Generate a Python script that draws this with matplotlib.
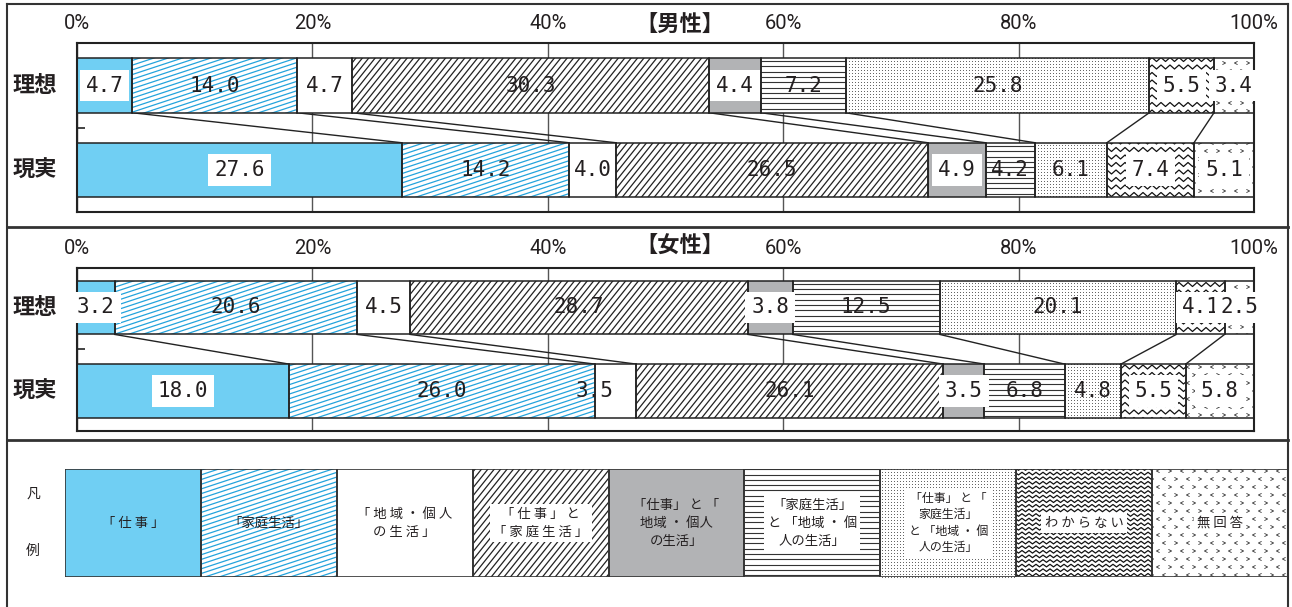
import numpy as np
import matplotlib
matplotlib.use("Agg")
import matplotlib.pyplot as plt
import matplotlib.transforms as mtransforms
from matplotlib.collections import LineCollection
from matplotlib.patches import Rectangle
from matplotlib.lines import Line2D

plt.rcParams['font.family'] = ['Noto Sans CJK JP', 'DejaVu Sans']

# ---------------------------------------------------------------- data
categories = ['「仕事」', '「家庭生活」', '「地域・個人の生活」', '「仕事」と「家庭生活」',
              '「仕事」と「地域・個人の生活」', '「家庭生活」と「地域・個人の生活」',
              '「仕事」と「家庭生活」と「地域・個人の生活」', 'わからない', '無回答']
legend_text = ['「 仕 事 」', '「家庭生活」', '「 地 域 ・ 個 人\nの 生 活 」',
               '「 仕 事 」 と\n「 家 庭 生 活 」', '「仕事」 と 「\n地域 ・ 個人\nの生活」',
               '「家庭生活」\nと 「地域 ・ 個\n人の生活」', '「仕事」 と 「\n家庭生活」\nと 「地域 ・ 個\n人の生活」',
               'わ か ら な い', '無 回 答']
rows = ['理想', '現実']
men_ideal = [4.7, 14.0, 4.7, 30.3, 4.4, 7.2, 25.8, 5.5, 3.4]
men_real = [27.6, 14.2, 4.0, 26.5, 4.9, 4.2, 6.1, 7.4, 5.1]
women_ideal = [3.2, 20.6, 4.5, 28.7, 3.8, 12.5, 20.1, 4.1, 2.5]
women_real = [18.0, 26.0, 3.5, 26.1, 3.5, 6.8, 4.8, 5.5, 5.8]
panel_titles = ['【男性】', '【女性】']
xticks = [0, 20, 40, 60, 80, 100]
xtick_labels = ['0%', '20%', '40%', '60%', '80%', '100%']

# ---------------------------------------------------------------- styles
BLUE = '#70CFF3'
HATCH_BLUE = '#23A3DC'
GRAY = '#B2B3B5'
INK = '#231F20'
faces = [BLUE, 'white', 'white', 'white', GRAY, 'white', 'white', 'white', 'white']
patterns = [None, 'blue', None, 'diag', None, 'horiz', 'dots', 'wave', 'chev']
boxed = [True, False, False, False, True, False, False, True, True]
NUM_FONT = ['DejaVu Sans Mono']
TICK_FONT = ['Roboto', 'DejaVu Sans']

W, H, DPI = 1292, 607, 100
fig = plt.figure(figsize=(W / DPI, H / DPI), dpi=DPI)


def frac(x0, y0, x1, y1):
    return [x0 / W, 1 - y1 / H, (x1 - x0) / W, (y1 - y0) / H]


# ---------------------------------------------------------------- pattern helpers
def px_box(patch):
    b = patch.get_extents()
    return b.x0, b.y0, b.x1, b.y1


def add_segments(ax, segs_px, patch, color, lw, z=2.2):
    inv = ax.transData.inverted()
    segs = [inv.transform(np.asarray(s, float)) for s in segs_px]
    lc = LineCollection(segs, colors=color, linewidths=lw, zorder=z)
    ax.add_collection(lc, autolim=False)
    lc.set_clip_path(patch)


def draw_pattern(ax, patch, kind, dense=False):
    x0, y0, x1, y1 = px_box(patch)
    segs = []
    if kind == 'blue' or kind == 'diag':
        slope, step = (0.33, 4.7) if kind == 'blue' else (1.25, 8.0)
        cmin, cmax = y0 - slope * x1, y1 - slope * x0
        for k in range(int(np.floor(cmin / step)) - 1, int(np.ceil(cmax / step)) + 2):
            c = k * step
            segs.append([(x0 - 2, slope * (x0 - 2) + c), (x1 + 2, slope * (x1 + 2) + c)])
        color = HATCH_BLUE if kind == 'blue' else '#222222'
        add_segments(ax, segs, patch, color, 0.9)
    elif kind == 'horiz':
        step = 5.3
        for k in range(int(np.floor(y0 / step)), int(np.ceil(y1 / step)) + 1):
            segs.append([(x0 - 2, k * step), (x1 + 2, k * step)])
        add_segments(ax, segs, patch, '#333333', 0.8)
    elif kind == 'wave':
        step, half, amp = (4.6, 3.5, 1.3) if dense else (7.5, 4.5, 2.0)
        xs = np.arange(np.floor(x0 / half) * half - half, x1 + 2 * half, half)
        sgn = np.where((np.round(xs / half).astype(int) % 2) == 0, 1.0, -1.0)
        for k in range(int(np.floor(y0 / step)), int(np.ceil(y1 / step)) + 1):
            segs.append(np.column_stack([xs, k * step + amp * sgn]))
        add_segments(ax, segs, patch, '#111111', 0.9)
    elif kind == 'chev':
        sx, sy, s = 12.0, 8.0, 1.6
        for j in range(int(np.floor(y0 / sy)), int(np.ceil(y1 / sy)) + 1):
            off = (sx / 2) if j % 2 else 0.0
            for i in range(int(np.floor(x0 / sx)) - 1, int(np.ceil(x1 / sx)) + 1):
                cx, cy = i * sx + off, j * sy
                d = s if (i + j) % 2 else -s
                segs.append([(cx + d, cy + s), (cx - d, cy), (cx + d, cy - s)])
        add_segments(ax, segs, patch, '#333333', 0.6)
    elif kind == 'dots':
        step = 3.0
        gx = np.arange(np.floor(x0 / step) * step, x1 + step, step)
        gy = np.arange(np.floor(y0 / step) * step, y1 + step, step)
        XX, YY = np.meshgrid(gx, gy)
        pts = ax.transData.inverted().transform(np.column_stack([XX.ravel(), YY.ravel()]))
        ln, = ax.plot(pts[:, 0], pts[:, 1], ls='none', marker='s', ms=0.7, mew=0,
                      color='#666666', zorder=2.2)
        ln.set_clip_path(patch)


# ---------------------------------------------------------------- bar panels
BAR_H = 0.645
panels = [
    dict(data=[men_ideal, men_real], box=(77, 43, 1254, 212), ylim=(1.497, -0.503),
         title_y=25),
    dict(data=[women_ideal, women_real], box=(77, 268, 1254, 431), ylim=(1.479, -0.473),
         title_y=246),
]
label_shift = {(1, 1, 2): -1.8}

for p_i, P in enumerate(panels):
    ax = fig.add_axes(frac(*P['box']))
    ax.set_xlim(0, 100)
    ax.set_ylim(*P['ylim'])
    ax.set_axisbelow(True)
    ax.set_xticks(xticks)
    ax.set_xticklabels(xtick_labels)
    ax.xaxis.set_ticks_position('top')
    ax.tick_params(axis='x', length=0, pad=7, labelsize=14.5, labelcolor=INK)
    for lbl in ax.get_xticklabels():
        lbl.set_fontfamily(TICK_FONT)
    ax.set_yticks([0.5])
    ax.set_yticklabels([])
    ax.tick_params(axis='y', direction='in', length=6, width=1.2, color='#222222')
    ax.grid(axis='x', color='#555555', lw=1.0)
    for sp in ax.spines.values():
        sp.set_linewidth(1.5)
        sp.set_color('#222222')

    cums = []
    for r, vals in enumerate(P['data']):
        vals = np.asarray(vals)
        cum = np.cumsum(vals)
        lefts = cum - vals
        cums.append(cum)
        for i, (v, l) in enumerate(zip(vals, lefts)):
            face = ax.barh(r, v, left=l, height=BAR_H, color=faces[i], edgecolor='none',
                           zorder=2)[0]
            if patterns[i]:
                draw_pattern(ax, face, patterns[i])
            ax.barh(r, v, left=l, height=BAR_H, fill=False, edgecolor='#222222', lw=1.1,
                    zorder=3)
            bbox = dict(facecolor='white', edgecolor='none', boxstyle='square,pad=0.28') \
                if boxed[i] else None
            xc = l + v / 2 + label_shift.get((p_i, r, i), 0)
            ax.text(xc, r, f'{v:.1f}', ha='center', va='center', fontsize=15,
                    family=NUM_FONT, color=INK, bbox=bbox, zorder=6, clip_on=False)

    # connector lines between the two bars
    for a, b in zip(cums[0][:-1], cums[1][:-1]):
        ax.plot([a, b], [BAR_H / 2, 1 - BAR_H / 2], color='#222222', lw=1.0, zorder=1.5)

    trans = mtransforms.blended_transform_factory(fig.transFigure, ax.transData)
    for r, name in enumerate(rows):
        ax.text(35 / W, r, name, transform=trans, ha='center', va='center', fontsize=16,
                fontweight='bold', color=INK)
    fig.text(680 / W, 1 - P['title_y'] / H, panel_titles[p_i], ha='center', va='center',
             fontsize=16, fontweight='bold', color=INK)

# ---------------------------------------------------------------- legend
lax = fig.add_axes(frac(65, 469, 1288, 577))
lax.set_xlim(0, len(categories))
lax.set_ylim(0, 1)
lax.axis('off')
for i, txt in enumerate(legend_text):
    face = Rectangle((i, 0), 1, 1, facecolor=faces[i], edgecolor='none', zorder=2)
    lax.add_patch(face)
    if patterns[i]:
        draw_pattern(lax, face, patterns[i], dense=True)
    lax.add_patch(Rectangle((i, 0), 1, 1, fill=False, edgecolor='#333333', lw=1.2, zorder=3))
    bbox = None if i in (0, 1, 4) else dict(facecolor='white', edgecolor='none',
                                              boxstyle='square,pad=0.25')
    fs = 8.6 if i == 6 else 9.6
    lax.text(i + 0.5, 0.5, txt, ha='center', va='center', fontsize=fs, color=INK,
             linespacing=1.35, bbox=bbox, zorder=6)

fig.text(33 / W, 1 - 494 / H, '凡', ha='center', va='center', fontsize=10, color=INK)
fig.text(33 / W, 1 - 551 / H, '例', ha='center', va='center', fontsize=10, color=INK)

# ---------------------------------------------------------------- frame
def fline(xs, ys, lw):
    fig.add_artist(Line2D([x / W for x in xs], [1 - y / H for y in ys], color='#333333',
                          lw=lw, transform=fig.transFigure))

fline([7, 7], [4, 612], 1.5)
fline([1288, 1288], [4, 612], 1.5)
fline([7, 1288], [4, 4], 1.5)
fline([7, 1288], [227, 227], 2.0)
fline([7, 1288], [440, 440], 2.0)

fig.savefig('out.png', dpi=DPI)
